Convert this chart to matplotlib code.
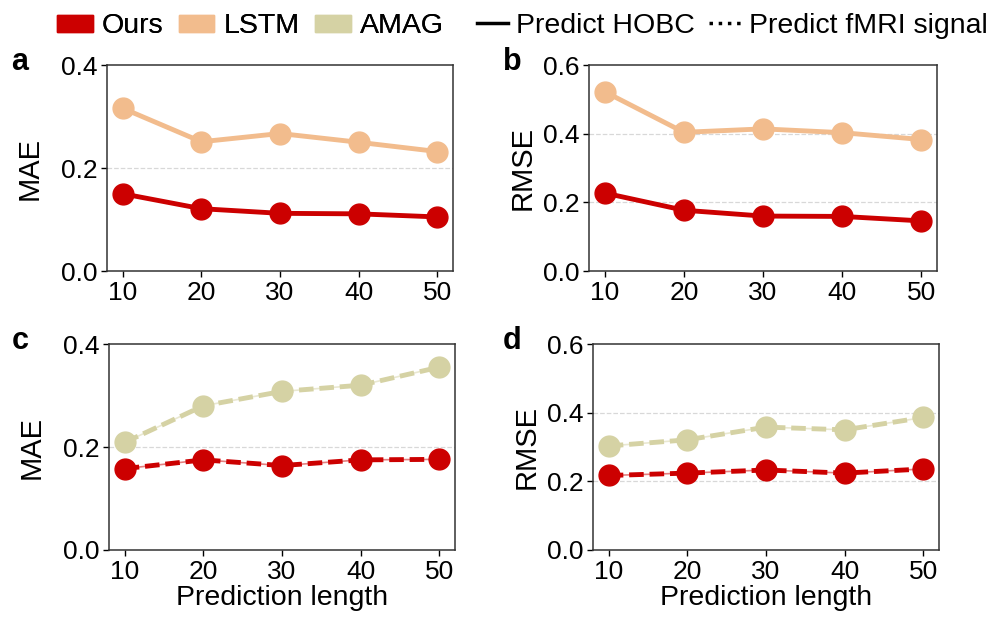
import numpy as np
import matplotlib.pyplot as plt
from matplotlib.patches import Patch
from matplotlib.lines import Line2D

plt.rcParams['font.family'] = ['Liberation Sans', 'DejaVu Sans']

# ------------------------------------------------------------
# Data
# ------------------------------------------------------------
pred_len = [10, 20, 30, 40, 50]

# a: MAE, predict HOBC
mae_hobc_ours = [0.150, 0.121, 0.112, 0.111, 0.105]
mae_hobc_lstm = [0.316, 0.251, 0.267, 0.250, 0.232]
# b: RMSE, predict HOBC
rmse_hobc_ours = [0.227, 0.177, 0.160, 0.159, 0.146]
rmse_hobc_lstm = [0.522, 0.404, 0.414, 0.403, 0.383]
# c: MAE, predict fMRI signal
mae_fmri_ours = [0.158, 0.175, 0.164, 0.175, 0.176]
mae_fmri_amag = [0.209, 0.280, 0.308, 0.320, 0.355]
# d: RMSE, predict fMRI signal
rmse_fmri_ours = [0.217, 0.224, 0.233, 0.224, 0.236]
rmse_fmri_amag = [0.303, 0.321, 0.358, 0.350, 0.386]

C_OURS = '#CC0000'
C_LSTM = '#F2BC8D'
C_AMAG = '#D5D2A4'

fig = plt.figure(figsize=(9.98, 6.24), dpi=100)

panels = [
    # letter, rect, ylabel, ymax, yticks, series, style
    ('a', [0.1072, 0.5657, 0.3467, 0.3301], 'MAE', 0.4, [0.0, 0.2, 0.4],
     [(mae_hobc_lstm, C_LSTM), (mae_hobc_ours, C_OURS)], '-'),
    ('b', [0.5902, 0.5657, 0.3487, 0.3301], 'RMSE', 0.6, [0.0, 0.2, 0.4, 0.6],
     [(rmse_hobc_lstm, C_LSTM), (rmse_hobc_ours, C_OURS)], '-'),
    ('c', [0.1092, 0.1186, 0.3467, 0.3301], 'MAE', 0.4, [0.0, 0.2, 0.4],
     [(mae_fmri_amag, C_AMAG), (mae_fmri_ours, C_OURS)], '--'),
    ('d', [0.5942, 0.1186, 0.3467, 0.3301], 'RMSE', 0.6, [0.0, 0.2, 0.4, 0.6],
     [(rmse_fmri_amag, C_AMAG), (rmse_fmri_ours, C_OURS)], '--'),
]

for letter, rect, ylab, ymax, yticks, series, ls in panels:
    ax = fig.add_axes(rect)
    for vals, col in series:
        if ls == '--':
            ax.plot(pred_len, vals, color=col, lw=1.2, alpha=0.5, zorder=2)
            ax.plot(pred_len, vals, color=col, lw=3.5, ls=(0, (3, 1.2)), zorder=3)
        else:
            ax.plot(pred_len, vals, color=col, lw=3.5, zorder=3)
        ax.plot(pred_len, vals, 'o', color=col, ms=15, zorder=4)
    ax.set_xlim(8, 52)
    ax.set_ylim(0, ymax)
    ax.set_xticks(pred_len)
    ax.set_yticks(yticks)
    ax.set_yticklabels([f'{v:.1f}' for v in yticks])
    for y in yticks[1:-1]:
        ax.axhline(y, color='#d8d8d8', lw=0.9, ls='--', zorder=1)
    ax.tick_params(labelsize=19, length=4, width=1, pad=3)
    ax.set_ylabel(ylab, fontsize=21, labelpad=12 if ylab == 'MAE' else 4)
    if letter in 'cd':
        ax.set_xlabel('Prediction length', fontsize=20.5, labelpad=1)
    for s in ax.spines.values():
        s.set_color('#333333')
        s.set_linewidth(1.1)
    x0 = 20 / 998 if letter in 'ac' else 512 / 998
    fig.text(x0, rect[1] + rect[3] + 0.005, letter, fontsize=22,
             fontweight='bold', ha='center', va='center')

patch_handles = [Patch(color=C_OURS, label='Ours'),
                 Patch(color=C_LSTM, label='LSTM'),
                 Patch(color=C_AMAG, label='AMAG')]
line_handles = [Line2D([], [], color='black', lw=2.5, label='Predict HOBC'),
                Line2D([], [], color='black', lw=2.5, ls=':', label='Predict fMRI signal')]

leg1 = fig.legend(handles=patch_handles, loc='center left', bbox_to_anchor=(0.057, 0.958),
                  ncol=3, frameon=False, fontsize=20.5, handlelength=1.26, handleheight=0.55,
                  handletextpad=0.32, columnspacing=0.53, borderaxespad=0, borderpad=0)
leg2 = fig.legend(handles=line_handles, loc='center left', bbox_to_anchor=(0.478, 0.958),
                  ncol=2, frameon=False, fontsize=20.5, handlelength=1.1,
                  handletextpad=0.28, columnspacing=0.5, borderaxespad=0, borderpad=0)
fig.add_artist(leg1)

fig.savefig('out.png', dpi=100)
